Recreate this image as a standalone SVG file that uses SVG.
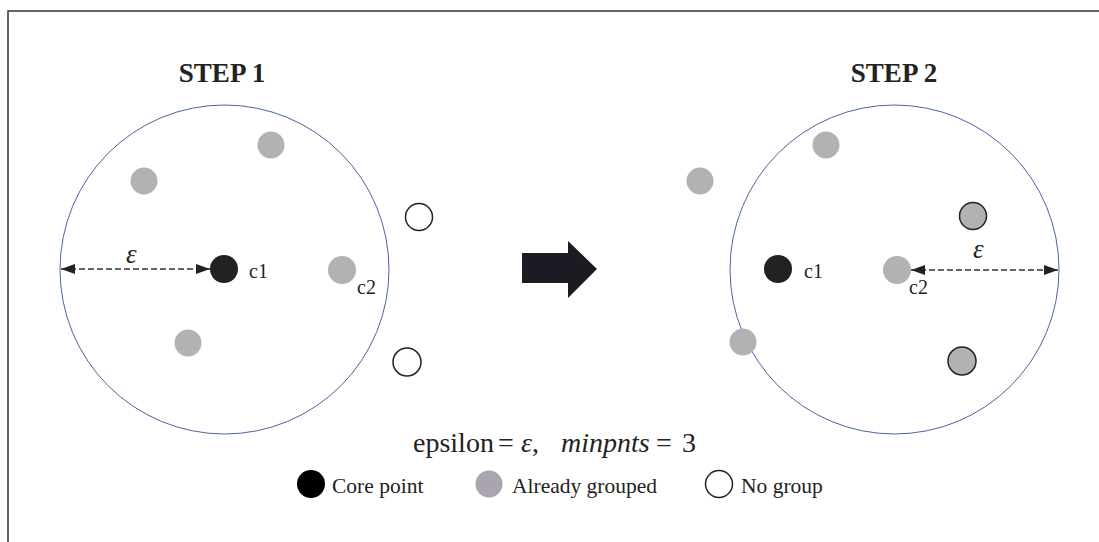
<svg xmlns="http://www.w3.org/2000/svg" width="1099" height="542" viewBox="0 0 1099 542">
  <style>
    .title { font-family: "Liberation Serif", "Times New Roman", serif; font-weight: bold; font-size: 27px; fill: #222; }
    .lbl { font-family: "Liberation Serif", "Times New Roman", serif; font-size: 20px; fill: #222; }
    .eps { font-family: "Liberation Serif", "Times New Roman", serif; font-style: italic; font-size: 27px; fill: #222; }
    .formula { font-family: "Liberation Serif", "Times New Roman", serif; font-size: 28px; fill: #222; }
    .legend { font-family: "Liberation Serif", "Times New Roman", serif; font-size: 21.5px; fill: #222; }
    .range { fill: none; stroke: #4a63a8; stroke-width: 1; }
    .core { fill: #222; }
    .grouped { fill: #b3b1b3; }
    .grouped-o { fill: #b3b1b3; stroke: #222; stroke-width: 1.5; }
    .nogroup { fill: #fff; stroke: #222; stroke-width: 1.5; }
    .dim { stroke: #333; stroke-width: 1.3; stroke-dasharray: 6 3; fill: none; marker-start: url(#ah); marker-end: url(#ah); }
  </style>
  <defs>
    <marker id="ah" viewBox="0 0 10 10" refX="10" refY="5" markerWidth="14" markerHeight="14" markerUnits="userSpaceOnUse" orient="auto-start-reverse">
      <path d="M0,1.5 L10,5 L0,8.5 Z" fill="#222"/>
    </marker>
  </defs>

  <rect width="1099" height="542" fill="#fff"/>
  <!-- frame -->
  <path d="M8,542 V11 H1099" fill="none" stroke="#333" stroke-width="1.5"/>

  <!-- step 1 -->
  <g id="step1">
    <text class="title" x="222" y="82" text-anchor="middle">STEP 1</text>
    <circle class="range" cx="224.5" cy="269.5" r="164.5"/>
  </g>
  <g id="s1-c1"><circle class="core" cx="224" cy="269" r="14"/><text class="lbl" x="249" y="278">c1</text></g>
  <g id="s1-c2"><circle class="grouped" cx="342" cy="270" r="14"/><text class="lbl" x="357" y="294">c2</text></g>
  <g id="s1-p1"><circle class="grouped" cx="271" cy="145" r="13.5"/></g>
  <g id="s1-p2"><circle class="grouped" cx="144" cy="181" r="13.5"/></g>
  <g id="s1-p3"><circle class="grouped" cx="188" cy="343" r="13.5"/></g>
  <g id="s1-n1"><circle class="nogroup" cx="419" cy="217" r="13.5"/></g>
  <g id="s1-n2"><circle class="nogroup" cx="407" cy="362" r="14"/></g>

  <!-- step 2 -->
  <g id="step2">
    <text class="title" x="894" y="82" text-anchor="middle">STEP 2</text>
    <circle class="range" cx="894.5" cy="269.5" r="164.5"/>
  </g>
  <g id="s2-c1"><circle class="core" cx="778" cy="269" r="14"/><text class="lbl" x="804" y="278">c1</text></g>
  <g id="s2-c2"><circle class="grouped" cx="897" cy="270" r="14"/><text class="lbl" x="909" y="294">c2</text></g>
  <g id="s2-p1"><circle class="grouped" cx="826" cy="145" r="13.5"/></g>
  <g id="s2-p2"><circle class="grouped" cx="700" cy="181" r="13.5"/></g>
  <g id="s2-p3"><circle class="grouped" cx="743" cy="342" r="13.5"/></g>
  <g id="s2-n1"><circle class="grouped-o" cx="973" cy="216" r="13.5"/></g>
  <g id="s2-n2"><circle class="grouped-o" cx="962" cy="361" r="14"/></g>

  <!-- transition arrow -->
  <g id="step-arrow">
    <path d="M522,253 H568 V241 L597,269 L568,298 V283 H522 Z" fill="#1c1a22"/>
  </g>

  <!-- epsilon radius connectors -->
  <g id="connectors">
    <line class="dim" x1="61" y1="269" x2="210" y2="269"/>
    <line class="dim" x1="911" y1="270" x2="1058" y2="270"/>
  </g>
  <text class="eps" x="126" y="263">ε</text>
  <text class="eps" x="973" y="258">ε</text>

  <!-- parameters -->
  <g id="params">
    <text class="formula" y="452"><tspan x="413">epsilon</tspan><tspan x="498">=</tspan><tspan x="521" font-style="italic">ε</tspan><tspan>,</tspan><tspan x="561" font-style="italic">minpnts</tspan><tspan x="656">=</tspan><tspan x="682">3</tspan></text>
  </g>

  <!-- legend -->
  <g id="legend-core"><circle cx="311" cy="484" r="14" fill="#000"/><text class="legend" x="332" y="493">Core point</text></g>
  <g id="legend-grouped"><circle cx="489" cy="484" r="13.5" fill="#a9a4ad"/><text class="legend" x="512" y="493">Already grouped</text></g>
  <g id="legend-none"><circle cx="719" cy="484" r="13.5" fill="#fff" stroke="#222" stroke-width="1.5"/><text class="legend" x="741" y="493">No group</text></g>
</svg>
